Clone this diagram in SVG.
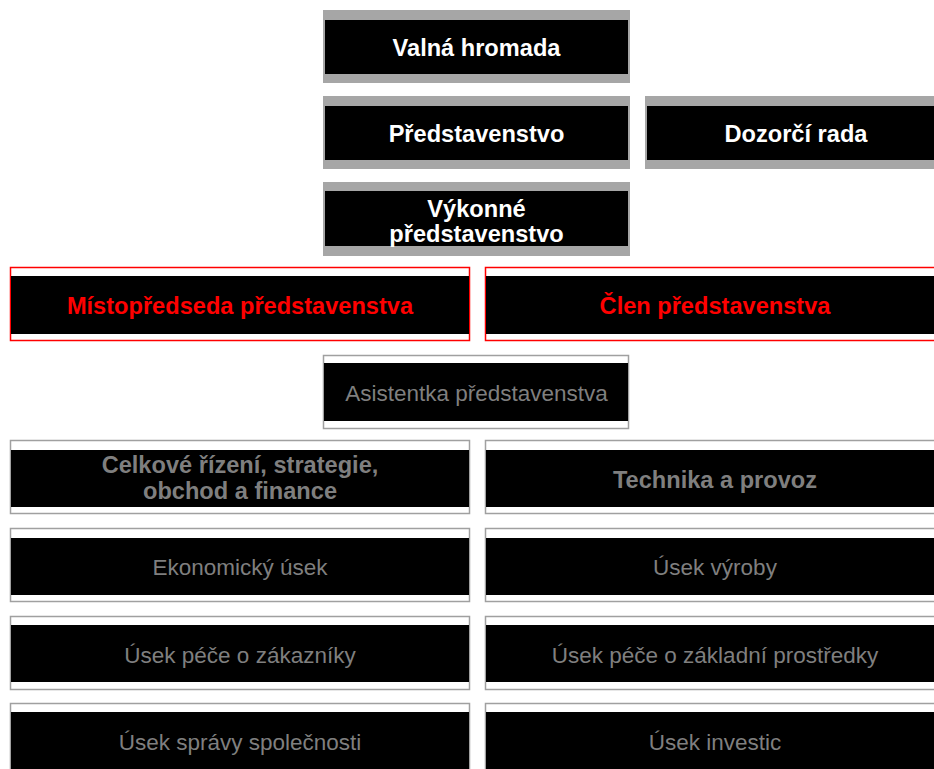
<svg xmlns="http://www.w3.org/2000/svg" width="934" height="769" viewBox="0 0 934 769">
<style>
.gb{fill:#a6a6a6}
.bk{fill:#000}
.fr{fill:#fff;stroke:#ff0000;stroke-width:1.5}
.fg{fill:#fff;stroke:#a0a0a0;stroke-width:1.5}
text{font-family:"Liberation Sans",Arial,sans-serif;text-anchor:middle}
.tw{fill:#fff;font-weight:bold;font-size:23.6px}
.tr{fill:#ff0000;font-weight:bold;font-size:23.6px}
.tgb{fill:#7f7f7f;font-weight:bold;font-size:23.6px}
.tg{fill:#7f7f7f;font-size:22.5px}
</style>
<g id="valna-hromada">
<rect class="gb" x="323" y="10" width="307" height="73"/>
<rect class="bk" x="325" y="20" width="303" height="54"/>
<text class="tw" x="476.5" y="56">Valná hromada</text>
</g>
<g id="predstavenstvo">
<rect class="gb" x="323" y="96" width="307" height="73"/>
<rect class="bk" x="325" y="106" width="303" height="54"/>
<text class="tw" x="476.5" y="142">Představenstvo</text>
</g>
<g id="dozorci-rada">
<rect class="gb" x="645" y="96" width="303" height="73"/>
<rect class="bk" x="647" y="106" width="299" height="54"/>
<text class="tw" x="796" y="142">Dozorčí rada</text>
</g>
<g id="vykonne-predstavenstvo">
<rect class="gb" x="323" y="182" width="307" height="74"/>
<rect class="bk" x="325" y="191" width="303" height="55"/>
<text class="tw" x="476.5" y="217">Výkonné</text>
<text class="tw" x="476.5" y="242">představenstvo</text>
</g>
<g id="mistopredseda">
<rect class="fr" x="10.5" y="267.5" width="459" height="73"/>
<rect class="bk" x="11" y="276" width="458" height="58"/>
<text class="tr" x="240" y="314">Místopředseda představenstva</text>
</g>
<g id="clen">
<rect class="fr" x="485.5" y="267.5" width="459" height="73"/>
<rect class="bk" x="486" y="276" width="458" height="58"/>
<text class="tr" x="715" y="314">Člen představenstva</text>
</g>
<g id="asistentka">
<rect class="fg" x="323.5" y="355.5" width="305" height="73"/>
<rect class="bk" x="324" y="363" width="304" height="58"/>
<text class="tg" x="476.5" y="400.5">Asistentka představenstva</text>
</g>
<g id="celkove-rizeni">
<rect class="fg" x="10.5" y="440.5" width="459" height="73"/>
<rect class="bk" x="11" y="450" width="458" height="57"/>
<text class="tgb" x="240" y="473">Celkové řízení, strategie,</text>
<text class="tgb" x="240" y="499">obchod a finance</text>
</g>
<g id="technika">
<rect class="fg" x="485.5" y="440.5" width="459" height="73"/>
<rect class="bk" x="486" y="450" width="458" height="57"/>
<text class="tgb" x="715" y="488">Technika a provoz</text>
</g>
<g id="ekonomicky">
<rect class="fg" x="10.5" y="528.5" width="459" height="73"/>
<rect class="bk" x="11" y="538" width="458" height="57"/>
<text class="tg" x="240" y="575">Ekonomický úsek</text>
</g>
<g id="vyroby">
<rect class="fg" x="485.5" y="528.5" width="459" height="73"/>
<rect class="bk" x="486" y="538" width="458" height="57"/>
<text class="tg" x="715" y="575">Úsek výroby</text>
</g>
<g id="pece-zakazniky">
<rect class="fg" x="10.5" y="616.5" width="459" height="73"/>
<rect class="bk" x="11" y="625" width="458" height="57"/>
<text class="tg" x="240" y="663">Úsek péče o zákazníky</text>
</g>
<g id="pece-prostredky">
<rect class="fg" x="485.5" y="616.5" width="459" height="73"/>
<rect class="bk" x="486" y="625" width="458" height="57"/>
<text class="tg" x="715" y="663">Úsek péče o základní prostředky</text>
</g>
<g id="spravy">
<rect class="fg" x="10.5" y="703.5" width="459" height="73"/>
<rect class="bk" x="11" y="712" width="458" height="57"/>
<text class="tg" x="240" y="750">Úsek správy společnosti</text>
</g>
<g id="investic">
<rect class="fg" x="485.5" y="703.5" width="459" height="73"/>
<rect class="bk" x="486" y="712" width="458" height="57"/>
<text class="tg" x="715" y="750">Úsek investic</text>
</g>
<g id="connectors"/>
</svg>
